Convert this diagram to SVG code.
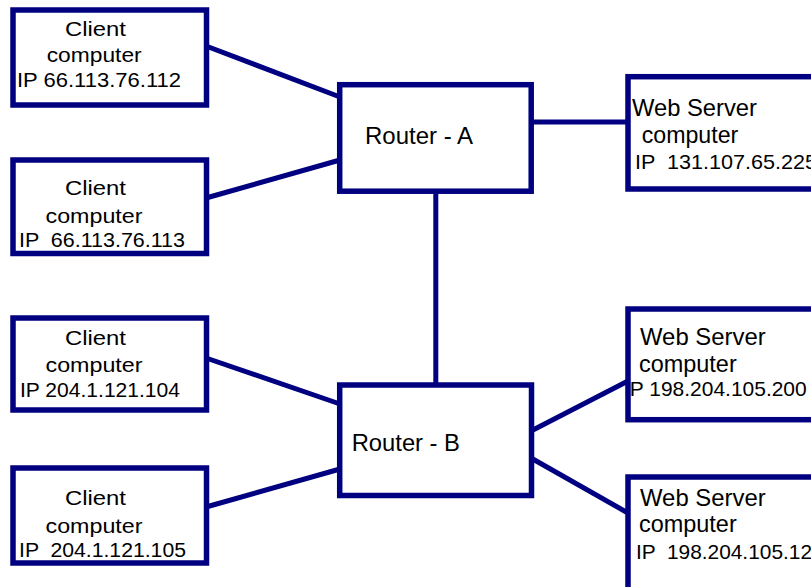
<svg xmlns="http://www.w3.org/2000/svg" width="811" height="587" viewBox="0 0 811 587" xml:space="preserve">
<style>
.box{fill:none;stroke:#000080;stroke-width:5.5}
.ln{stroke:#000080;stroke-width:5;fill:none}
text{font-family:"Liberation Sans",Arial,sans-serif;fill:#000;white-space:pre}
.c{font-size:21px}
.ip{font-size:20px}
.r{font-size:23px}
.w{font-size:24px}
.wip{font-size:21px}
</style>
<rect width="811" height="587" fill="#fff"/>
<g id="connectors">
<line class="ln" x1="206" y1="46" x2="340" y2="97"/>
<line class="ln" x1="206" y1="198" x2="340" y2="160"/>
<line class="ln" x1="531" y1="122" x2="628" y2="122"/>
<line class="ln" x1="435.8" y1="191" x2="435.8" y2="385"/>
<line class="ln" x1="206" y1="358" x2="340" y2="404"/>
<line class="ln" x1="206" y1="507" x2="340" y2="469"/>
<line class="ln" x1="531" y1="431" x2="628" y2="381"/>
<line class="ln" x1="531" y1="458" x2="628" y2="513"/>
</g>
<g id="client1">
<text class="c" x="65" y="35.5" textLength="61" lengthAdjust="spacingAndGlyphs">Client</text>
<text class="c" x="46.7" y="62" textLength="95" lengthAdjust="spacingAndGlyphs">computer</text>
<text class="ip" x="17" y="86.5" textLength="164" lengthAdjust="spacingAndGlyphs">IP 66.113.76.112</text>
<rect class="box" x="13" y="10" width="193.5" height="95"/>
</g>
<g id="client2">
<text class="c" x="65" y="195" textLength="61" lengthAdjust="spacingAndGlyphs">Client</text>
<text class="c" x="45.5" y="222.5" textLength="97" lengthAdjust="spacingAndGlyphs">computer</text>
<text class="ip" x="19" y="246.5" textLength="166" lengthAdjust="spacingAndGlyphs">IP  66.113.76.113</text>
<rect class="box" x="13" y="160" width="193.5" height="93.5"/>
</g>
<g id="client3">
<text class="c" x="65" y="345" textLength="61" lengthAdjust="spacingAndGlyphs">Client</text>
<text class="c" x="45.5" y="372" textLength="97" lengthAdjust="spacingAndGlyphs">computer</text>
<text class="ip" x="20" y="397" textLength="160" lengthAdjust="spacingAndGlyphs">IP 204.1.121.104</text>
<rect class="box" x="13" y="318" width="193.5" height="92"/>
</g>
<g id="client4">
<text class="c" x="65" y="505" textLength="61" lengthAdjust="spacingAndGlyphs">Client</text>
<text class="c" x="45.5" y="532.5" textLength="97" lengthAdjust="spacingAndGlyphs">computer</text>
<text class="ip" x="19" y="557" textLength="167" lengthAdjust="spacingAndGlyphs">IP  204.1.121.105</text>
<rect class="box" x="13" y="468" width="193.5" height="95"/>
</g>
<g id="routerA">
<text class="r" x="365" y="144.3" textLength="108" lengthAdjust="spacingAndGlyphs">Router - A</text>
<rect class="box" x="339.7" y="84.7" width="191.5" height="106.5"/>
</g>
<g id="routerB">
<text class="r" x="351.7" y="451" textLength="108.3" lengthAdjust="spacingAndGlyphs">Router - B</text>
<rect class="box" x="339.7" y="385" width="191.8" height="110.5"/>
</g>
<g id="webserver1">
<text class="w" x="632" y="115.5" textLength="125" lengthAdjust="spacingAndGlyphs">Web Server</text>
<text class="w" x="641.7" y="142.5" textLength="96.6" lengthAdjust="spacingAndGlyphs">computer</text>
<text class="wip" x="635" y="169" textLength="182" lengthAdjust="spacingAndGlyphs">IP  131.107.65.225</text>
<rect class="box" x="628" y="76.7" width="260" height="112.3"/>
</g>
<g id="webserver2">
<text class="w" x="640" y="345" textLength="125.7" lengthAdjust="spacingAndGlyphs">Web Server</text>
<text class="w" x="639" y="372" textLength="97.7" lengthAdjust="spacingAndGlyphs">computer</text>
<text class="wip" x="624" y="396" textLength="182.7" lengthAdjust="spacingAndGlyphs">IP 198.204.105.200</text>
<rect class="box" x="628" y="309" width="260" height="110.7"/>
</g>
<g id="webserver3">
<text class="w" x="640" y="505.5" textLength="125.7" lengthAdjust="spacingAndGlyphs">Web Server</text>
<text class="w" x="639" y="531.7" textLength="97.7" lengthAdjust="spacingAndGlyphs">computer</text>
<text class="wip" x="636" y="559" textLength="176" lengthAdjust="spacingAndGlyphs">IP  198.204.105.12</text>
<rect class="box" x="628" y="477" width="260" height="150"/>
</g>
</svg>
